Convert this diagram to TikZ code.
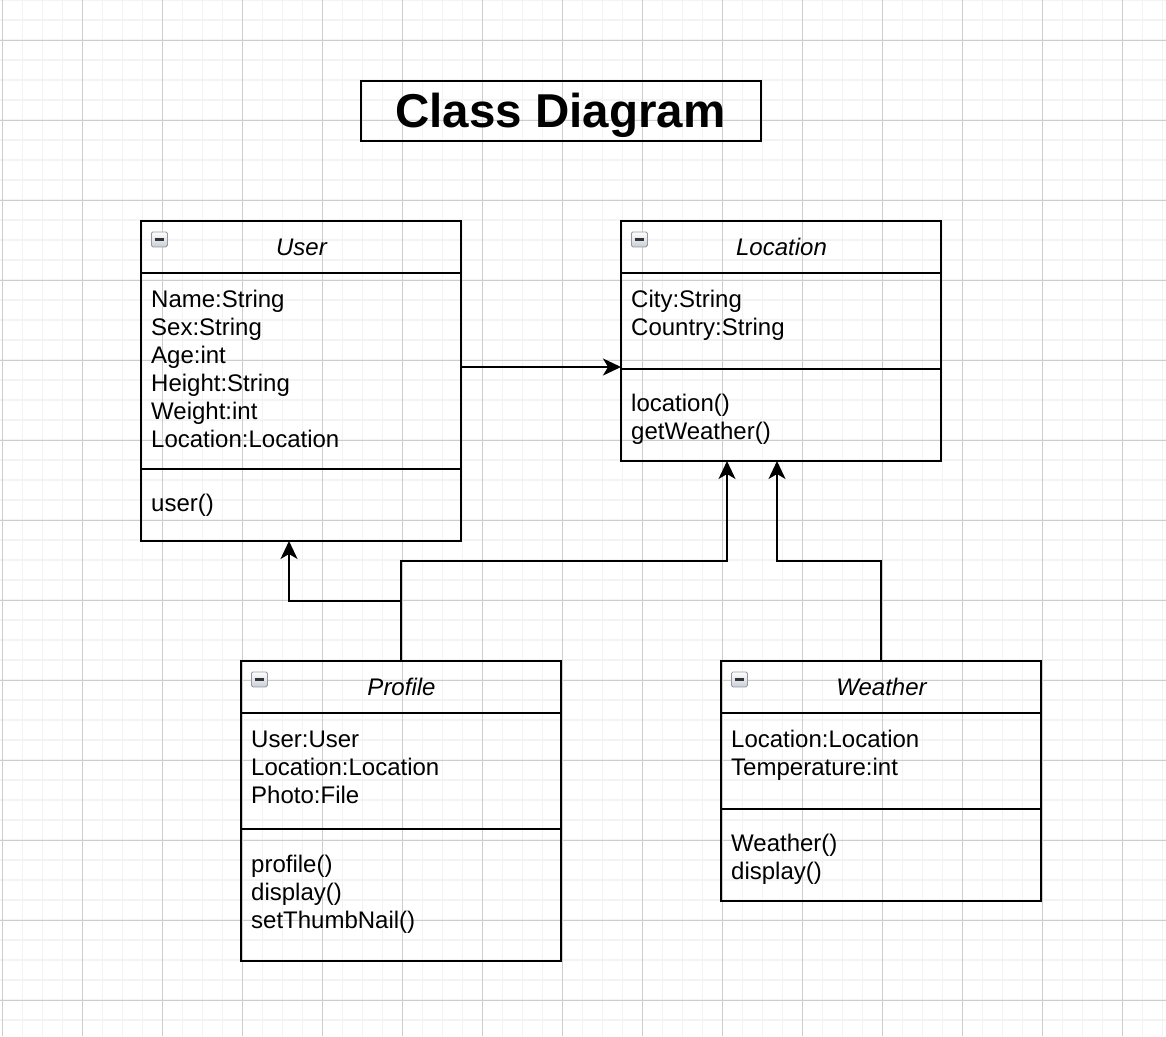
\documentclass[tikz,border=0pt]{standalone}
\usepackage{fontspec}
\setmainfont{Liberation Sans}
\usetikzlibrary{arrows.meta}
\definecolor{gridminor}{RGB}{243,243,243}
\definecolor{gridmajor}{RGB}{205,205,205}
\definecolor{iconfill}{RGB}{200,206,216}
\definecolor{iconedge}{RGB}{150,154,160}
\definecolor{iconbar}{RGB}{50,50,50}
\begin{document}
\begin{tikzpicture}[x=1pt,y=-1pt,
  classbox/.style={draw,line width=2pt,inner sep=0pt,outer sep=0pt,minimum width=320pt},
  titlebox/.style={draw,line width=2pt,inner sep=0pt,outer sep=0pt,minimum width=400pt,minimum height=60pt},
  sepline/.style={line width=2pt},
  conn/.style={line width=2pt,-{Stealth[length=18pt,width=17pt,inset=5pt]}},
  member/.style={anchor=base west,inner sep=0pt,font=\fontsize{24}{28}\selectfont},
  classname/.style={anchor=base,inner sep=0pt,font=\fontsize{24}{28}\selectfont\itshape},
  icon/.style={draw=iconedge,line width=0.8pt,rounded corners=1.5pt,top color=white,bottom color=iconfill}
]
\useasboundingbox (0,0) rectangle (1166,1036);
\fill[white] (0,0) rectangle (1166,1036);
% grid
\foreach \x in {2.5,22.5,...,1165} \draw[gridminor,line width=1.5pt] (\x,0) -- (\x,1036);
\foreach \y in {0,20,...,1036} \draw[gridminor,line width=1.5pt] (0,\y) -- (1166,\y);
\foreach \x in {2.5,82.5,...,1165} \draw[gridmajor,line width=1pt] (\x,0) -- (\x,1036);
\foreach \y in {40,120,...,1036} \draw[gridmajor,line width=1pt] (0,\y) -- (1166,\y);

% title
\node[titlebox] (title) at (561,111) {};
\node[anchor=base,inner sep=0pt,font=\fontsize{47.5}{50}\selectfont\bfseries] (titletext) at (560.5,127.5) {Class Diagram};

% class boxes
\node[classbox,minimum height=320pt] (user) at (301,381) {};
\node[classbox,minimum height=240pt] (loc) at (781,341) {};
\node[classbox,minimum height=300pt] (prof) at (401,811) {};
\node[classbox,minimum height=240pt] (weat) at (881,781) {};

% separators
\draw[sepline] (user.west |- 0,273) -- (user.east |- 0,273);
\draw[sepline] (user.west |- 0,469) -- (user.east |- 0,469);
\draw[sepline] (loc.west |- 0,273) -- (loc.east |- 0,273);
\draw[sepline] (loc.west |- 0,368.5) -- (loc.east |- 0,368.5);
\draw[sepline] (prof.west |- 0,713) -- (prof.east |- 0,713);
\draw[sepline] (prof.west |- 0,828.5) -- (prof.east |- 0,828.5);
\draw[sepline] (weat.west |- 0,713) -- (weat.east |- 0,713);
\draw[sepline] (weat.west |- 0,808.5) -- (weat.east |- 0,808.5);

% collapse icons
\foreach \n/\ix/\iy in {ui/151/231.5, li/631/231.5, pi/251/671.5, wi/731/671.5}{
  \node[icon,minimum width=16pt,minimum height=15pt,inner sep=0pt,anchor=north west] (\n) at (\ix,\iy) {};
  \draw[iconbar,line width=2.2pt] ([xshift=3.5pt]\n.west) -- ([xshift=-3.5pt]\n.east);
}

% class names
\node[classname] (userT) at (301.5,255) {User};
\node[classname] (locT) at (781.5,255) {Location};
\node[classname] (profT) at (401.5,695) {Profile};
\node[classname] (weatT) at (881.5,695) {Weather};

% members
\foreach \t [count=\i] in {Name:String,Sex:String,Age:int,Height:String,Weight:int,Location:Location}
  \node[member] (ua\i) at (151,279.5+28*\i) {\t};
\node[member] (um1) at (151,511) {user()};

\foreach \t [count=\i] in {City:String,Country:String}
  \node[member] (la\i) at (631,279.5+28*\i) {\t};
\foreach \t [count=\i] in {location(),getWeather()}
  \node[member] (lm\i) at (631,383+28*\i) {\t};

\foreach \t [count=\i] in {User:User,Location:Location,Photo:File}
  \node[member] (pa\i) at (251,719.5+28*\i) {\t};
\foreach \t [count=\i] in {profile(),display(),setThumbNail()}
  \node[member] (pm\i) at (251,844+28*\i) {\t};

\foreach \t [count=\i] in {Location:Location,Temperature:int}
  \node[member] (wa\i) at (731,719.5+28*\i) {\t};
\foreach \t [count=\i] in {Weather(),display()}
  \node[member] (wm\i) at (731,823+28*\i) {\t};

% connectors
\draw[conn] (user.east |- 0,367) -- (loc.west |- 0,367);
\draw[conn] (prof.north) |- (289,601) -- (user.south -| 289,0);
\draw[conn] (prof.north) |- (727,561) -- (loc.south -| 727,0);
\draw[conn] (weat.north) |- (777,561) -- (loc.south -| 777,0);
\end{tikzpicture}
\end{document}
